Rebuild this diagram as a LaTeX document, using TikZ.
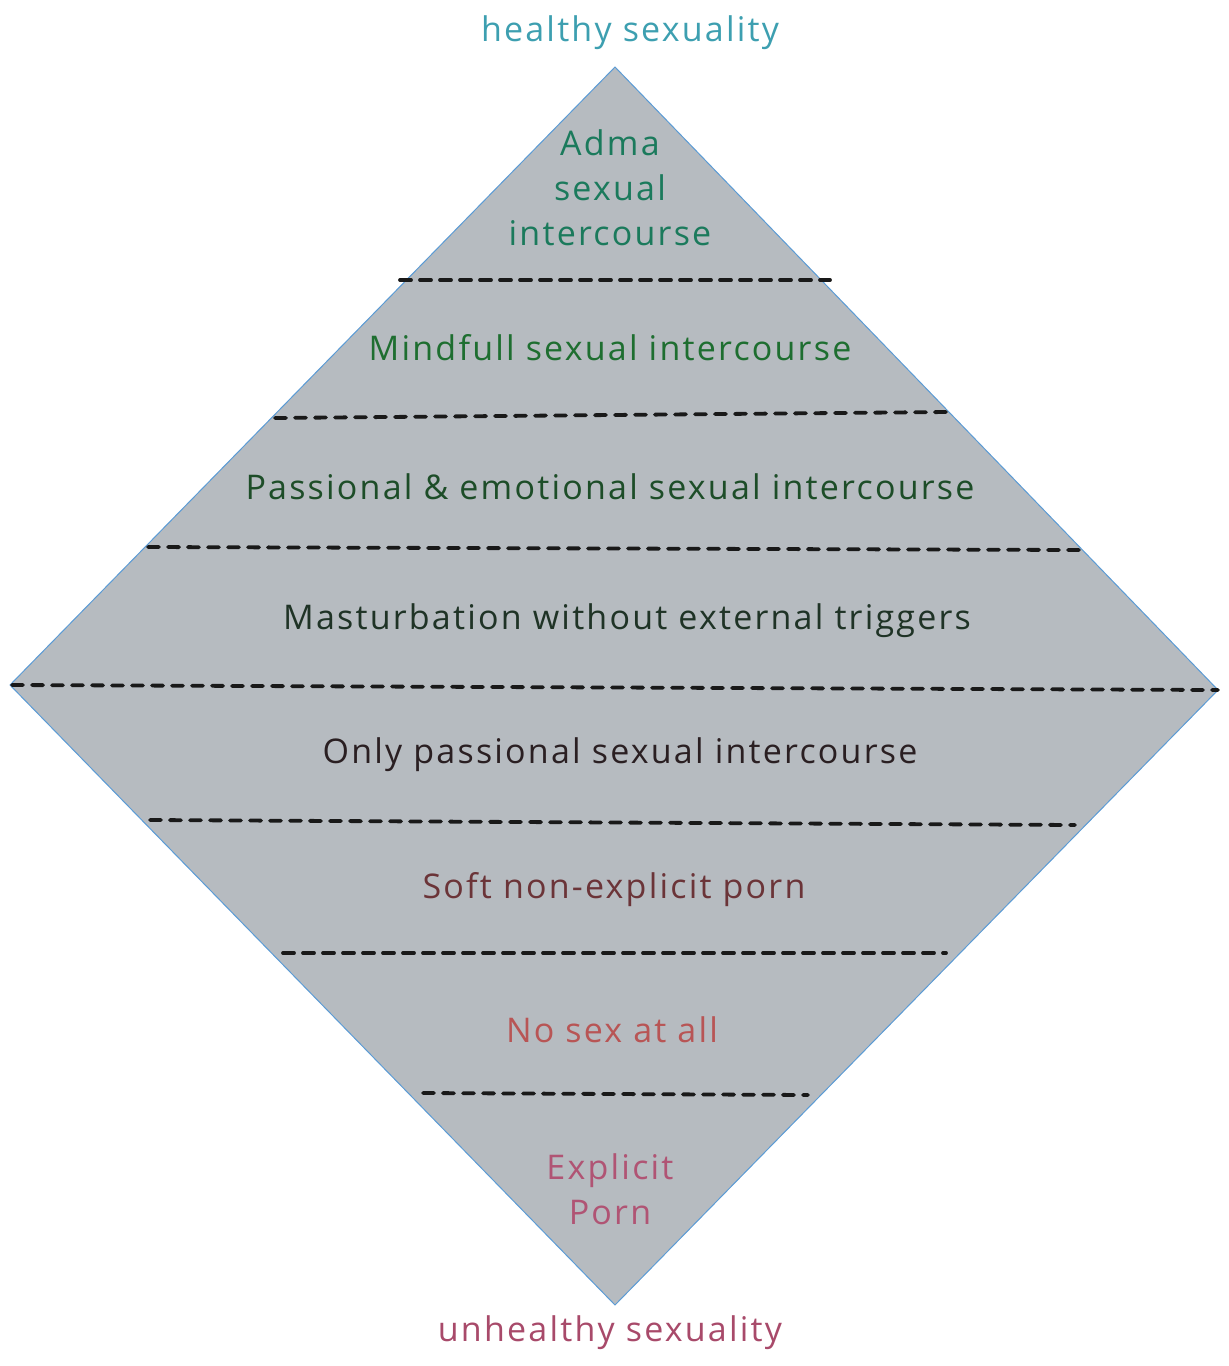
\documentclass[tikz,border=0pt]{standalone}
\usepackage{fontspec}
\setmainfont[LetterSpace=6.5]{Open Sans}
\usetikzlibrary{positioning}
\definecolor{diamondfill}{HTML}{B6BBC0}
\definecolor{diamondedge}{HTML}{5B9BD5}
\definecolor{goodteal}{HTML}{3D9FB0}
\definecolor{admagreen}{HTML}{1B7A5C}
\definecolor{mindgreen}{HTML}{1E6E30}
\definecolor{passgreen}{HTML}{1D4D28}
\definecolor{mastink}{HTML}{1F3326}
\definecolor{onlyink}{HTML}{2A1F22}
\definecolor{softbrown}{HTML}{6B3438}
\definecolor{nosexred}{HTML}{B85555}
\definecolor{pornrose}{HTML}{B05474}
\definecolor{badrose}{HTML}{A84A6A}
\tikzset{
  levelrule/.style={line width=1.9pt,dash pattern=on 5.5pt off 4.5pt,line cap=round,draw=black!90},
  levellabel/.style={align=center,inner sep=0pt,font=\fontsize{17}{22.5}\selectfont},
}
\newcommand{\levelline}[5]{%
  \coordinate (#1w) at (#3,#2);
  \coordinate (#1e) at (#4,#5);
  \draw[levelrule] (#1w) -- (#1e);
}
\newcommand{\levelname}[4]{%
  \node[levellabel,text=#4] (#1) at (#2) {#3};
}

\begin{document}
\begin{tikzpicture}[x=.5pt,y=-.5pt]
        \useasboundingbox (0,0) rectangle (1228,1366);
        \coordinate (top) at (615,67);
        \coordinate (left) at (10,685);
        \coordinate (bottom) at (615,1305);
        \coordinate (right) at (1218,690);
        \filldraw[fill=diamondfill,draw=diamondedge,line width=.5pt] (top) -- (right) -- (bottom) -- (left) -- cycle;
        \levelline{adma}{280}{400}{830}{280}
        \levelline{mind}{418}{275}{948}{412}
        \levelline{pass}{547}{148}{1080}{550}
        \levelline{mast}{685}{12}{1218}{690}
        \levelline{only}{820}{150}{1075}{825}
        \levelline{soft}{953}{283}{946}{953}
        \levelline{nosex}{1093}{423}{808}{1095}
        \levelname{healthy}{630,33}{healthy sexuality}{goodteal}
        \levelname{admatext}{610,188}{Adma\\sexual\\intercourse}{admagreen}
        \levelname{mindtext}{610,348}{Mindfull sexual intercourse}{mindgreen}
        \levelname{passtext}{610,487}{Passional \& emotional sexual intercourse}{passgreen}
        \levelname{masttext}{627,621}{Masturbation without external triggers}{mastink}
        \levelname{onlytext}{620,755}{Only passional sexual intercourse}{onlyink}
        \levelname{softtext}{614,890}{Soft non-explicit porn}{softbrown}
        \levelname{nosextext}{612,1030}{No sex at all}{nosexred}
        \levelname{porntext}{610,1189}{Explicit\\Porn}{pornrose}
        \levelname{unhealthy}{610,1333}{unhealthy sexuality}{badrose}
      \end{tikzpicture}
\end{document}
